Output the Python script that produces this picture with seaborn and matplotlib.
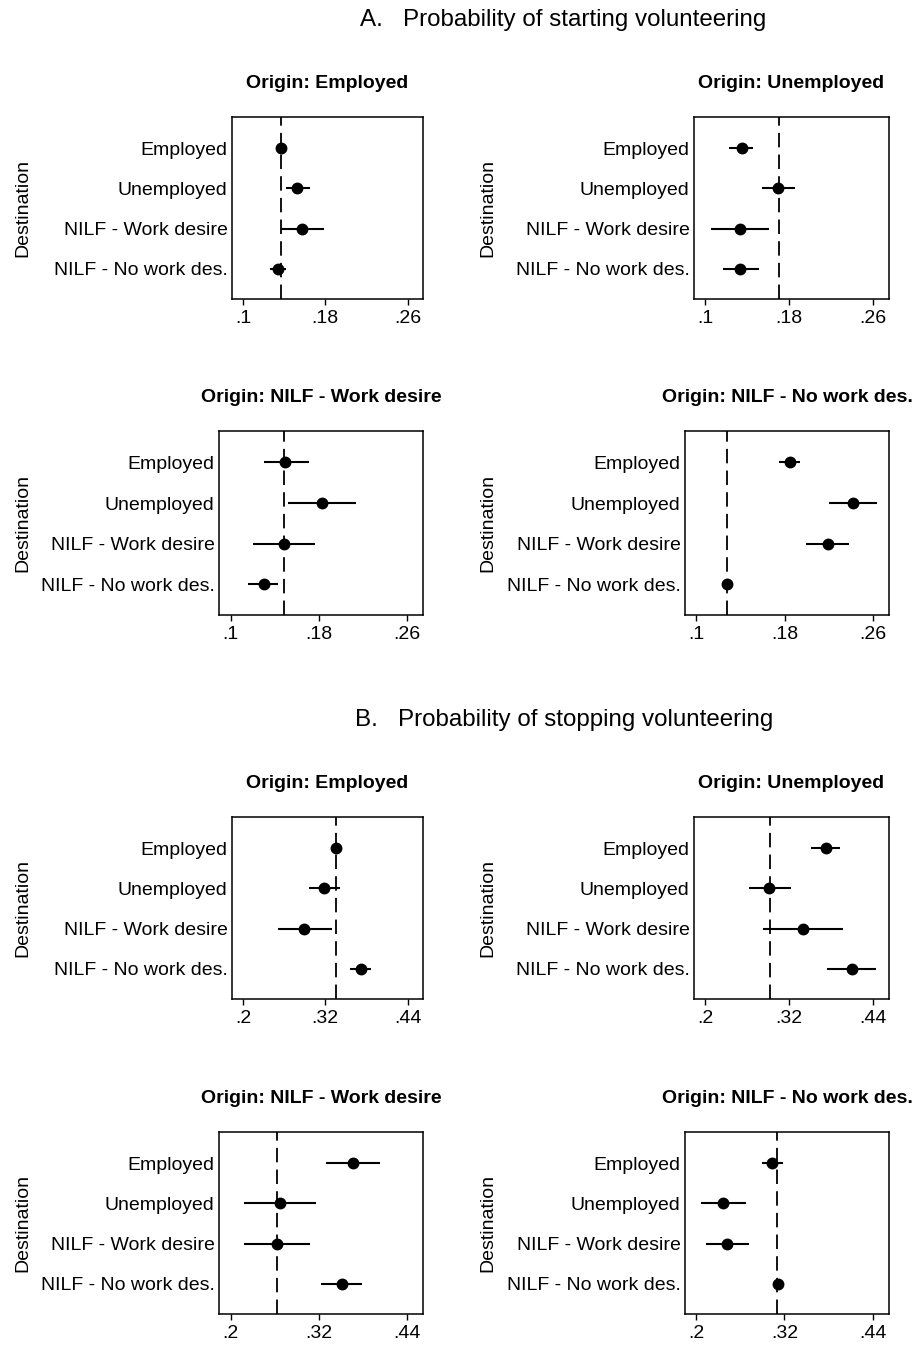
import numpy as np
import pandas as pd
import matplotlib
matplotlib.use("Agg")
import matplotlib.pyplot as plt
import seaborn as sns

# ---------------- data ----------------
destinations = ["Employed", "Unemployed", "NILF - Work desire", "NILF - No work des."]
origins = ["Employed", "Unemployed", "NILF - Work desire", "NILF - No work des."]

# A. Probability of starting volunteering (estimate, lower CI, upper CI) per origin
start_est_emp = [0.1365, 0.1521, 0.1570, 0.1336]
start_lo_emp = [0.1345, 0.1414, 0.1368, 0.1267]
start_hi_emp = [0.1385, 0.1651, 0.1790, 0.1417]
start_ref_emp = 0.1365

start_est_une = [0.1347, 0.1695, 0.1330, 0.1330]
start_lo_une = [0.1229, 0.1543, 0.1057, 0.1171]
start_hi_une = [0.1451, 0.1854, 0.1604, 0.1509]
start_ref_une = 0.1702

start_est_nwd = [0.1494, 0.1826, 0.1482, 0.1298]
start_lo_nwd = [0.1298, 0.1521, 0.1202, 0.1160]
start_hi_nwd = [0.1708, 0.2139, 0.1766, 0.1431]
start_ref_nwd = 0.1479

start_est_nnd = [0.1847, 0.2423, 0.2195, 0.1279]
start_lo_nnd = [0.1751, 0.2201, 0.1991, 0.1265]
start_hi_nnd = [0.1943, 0.2640, 0.2387, 0.1293]
start_ref_nnd = 0.1276

# B. Probability of stopping volunteering
stop_est_emp = [0.3357, 0.3186, 0.2893, 0.3718]
stop_lo_emp = [0.3330, 0.2966, 0.2513, 0.3562]
stop_hi_emp = [0.3384, 0.3415, 0.3294, 0.3865]
stop_ref_emp = 0.3357

stop_est_une = [0.3720, 0.2914, 0.3400, 0.4091]
stop_lo_une = [0.3510, 0.2620, 0.2829, 0.3739]
stop_hi_une = [0.3924, 0.3220, 0.3971, 0.4439]
stop_ref_une = 0.2924

stop_est_nwd = [0.3664, 0.2674, 0.2628, 0.3509]
stop_lo_nwd = [0.3297, 0.2185, 0.2176, 0.3225]
stop_hi_nwd = [0.4030, 0.3162, 0.3081, 0.3790]
stop_ref_nwd = 0.2628

stop_est_nnd = [0.3031, 0.2360, 0.2423, 0.3108]
stop_lo_nnd = [0.2888, 0.2063, 0.2131, 0.3080]
stop_hi_nnd = [0.3185, 0.2672, 0.2712, 0.3136]
stop_ref_nnd = 0.3104

start_ticks = [0.10, 0.18, 0.26]
start_ticklabels = [".1", ".18", ".26"]
stop_ticks = [0.20, 0.32, 0.44]
stop_ticklabels = [".2", ".32", ".44"]

# ---------------- style ----------------
sns.set_style("white")
plt.rcParams["font.family"] = ["Liberation Sans", "DejaVu Sans"]
plt.rcParams["axes.linewidth"] = 1.1
plt.rcParams["text.color"] = "black"
plt.rcParams["axes.labelcolor"] = "black"
plt.rcParams["xtick.color"] = "black"
plt.rcParams["ytick.color"] = "black"

W, H = 919, 1345
fig = plt.figure(figsize=(W / 100, H / 100), dpi=100)


def box(left, top, right, bottom):
    return [left / W, 1 - bottom / H, (right - left) / W, (bottom - top) / H]


panels = [
    # (est, lo, hi, ref, ticks, labels, xlim, title, pixel box)
    (start_est_emp, start_lo_emp, start_hi_emp, start_ref_emp, start_ticks, start_ticklabels,
     (0.0893, 0.2750), origins[0], (232, 117, 423, 299)),
    (start_est_une, start_lo_une, start_hi_une, start_ref_une, start_ticks, start_ticklabels,
     (0.0893, 0.2750), origins[1], (694, 117, 889, 299)),
    (start_est_nwd, start_lo_nwd, start_hi_nwd, start_ref_nwd, start_ticks, start_ticklabels,
     (0.0893, 0.2745), origins[2], (219, 431, 423, 615)),
    (start_est_nnd, start_lo_nnd, start_hi_nnd, start_ref_nnd, start_ticks, start_ticklabels,
     (0.0900, 0.2745), origins[3], (685, 431, 889, 615)),
    (stop_est_emp, stop_lo_emp, stop_hi_emp, stop_ref_emp, stop_ticks, stop_ticklabels,
     (0.1840, 0.4625), origins[0], (232, 817, 423, 999)),
    (stop_est_une, stop_lo_une, stop_hi_une, stop_ref_une, stop_ticks, stop_ticklabels,
     (0.1840, 0.4625), origins[1], (694, 817, 889, 999)),
    (stop_est_nwd, stop_lo_nwd, stop_hi_nwd, stop_ref_nwd, stop_ticks, stop_ticklabels,
     (0.1840, 0.4618), origins[2], (219, 1132, 423, 1314)),
    (stop_est_nnd, stop_lo_nnd, stop_hi_nnd, stop_ref_nnd, stop_ticks, stop_ticklabels,
     (0.1850, 0.4618), origins[3], (685, 1132, 889, 1314)),
]

for est, lo, hi, ref, ticks, tlabels, xlim, origin, pb in panels:
    ax = fig.add_axes(box(*pb))
    df = pd.DataFrame({"Destination": destinations, "est": est, "lo": lo, "hi": hi})
    # confidence intervals
    ax.hlines(y=np.arange(len(destinations)), xmin=df["lo"], xmax=df["hi"],
              color="black", lw=1.5, zorder=2)
    sns.pointplot(data=df, x="est", y="Destination", order=destinations,
                  linestyle="none", errorbar=None, color="black",
                  markers="o", markersize=6.5, ax=ax, zorder=3)
    ax.axvline(ref, color="black", lw=1.3, dashes=(8, 4), zorder=1)
    ax.set_xlim(*xlim)
    ax.set_ylim(3.75, -0.77)
    ax.set_xticks(ticks)
    ax.set_xticklabels(tlabels)
    ax.set_xlabel("")
    ax.set_ylabel("Destination", fontsize=14, color="black")
    lx = (31 if pb[0] < 460 else 496) / W
    ax.yaxis.set_label_coords(lx, 1 - ((pb[1] + pb[3]) / 2) / H, transform=fig.transFigure)
    ax.tick_params(axis="x", direction="out", length=4.3, width=1.0, pad=3.5,
                   labelsize=14, colors="black", bottom=True)
    ax.tick_params(axis="y", length=0, pad=3.3, labelsize=14, colors="black")
    ax.set_title("Origin: " + origin, fontsize=14, fontweight="bold", pad=21, color="black")
    for s in ax.spines.values():
        s.set_visible(True)
        s.set_color("black")
        s.set_linewidth(1.1)
    ax.grid(False)

fig.text(360 / W, 1 - 20 / H, "A.   Probability of starting volunteering",
         fontsize=17.4, ha="left", va="center", color="black")
fig.text(355 / W, 1 - 720 / H, "B.   Probability of stopping volunteering",
         fontsize=17.4, ha="left", va="center", color="black")

fig.savefig("out.png", dpi=100, facecolor="white")
